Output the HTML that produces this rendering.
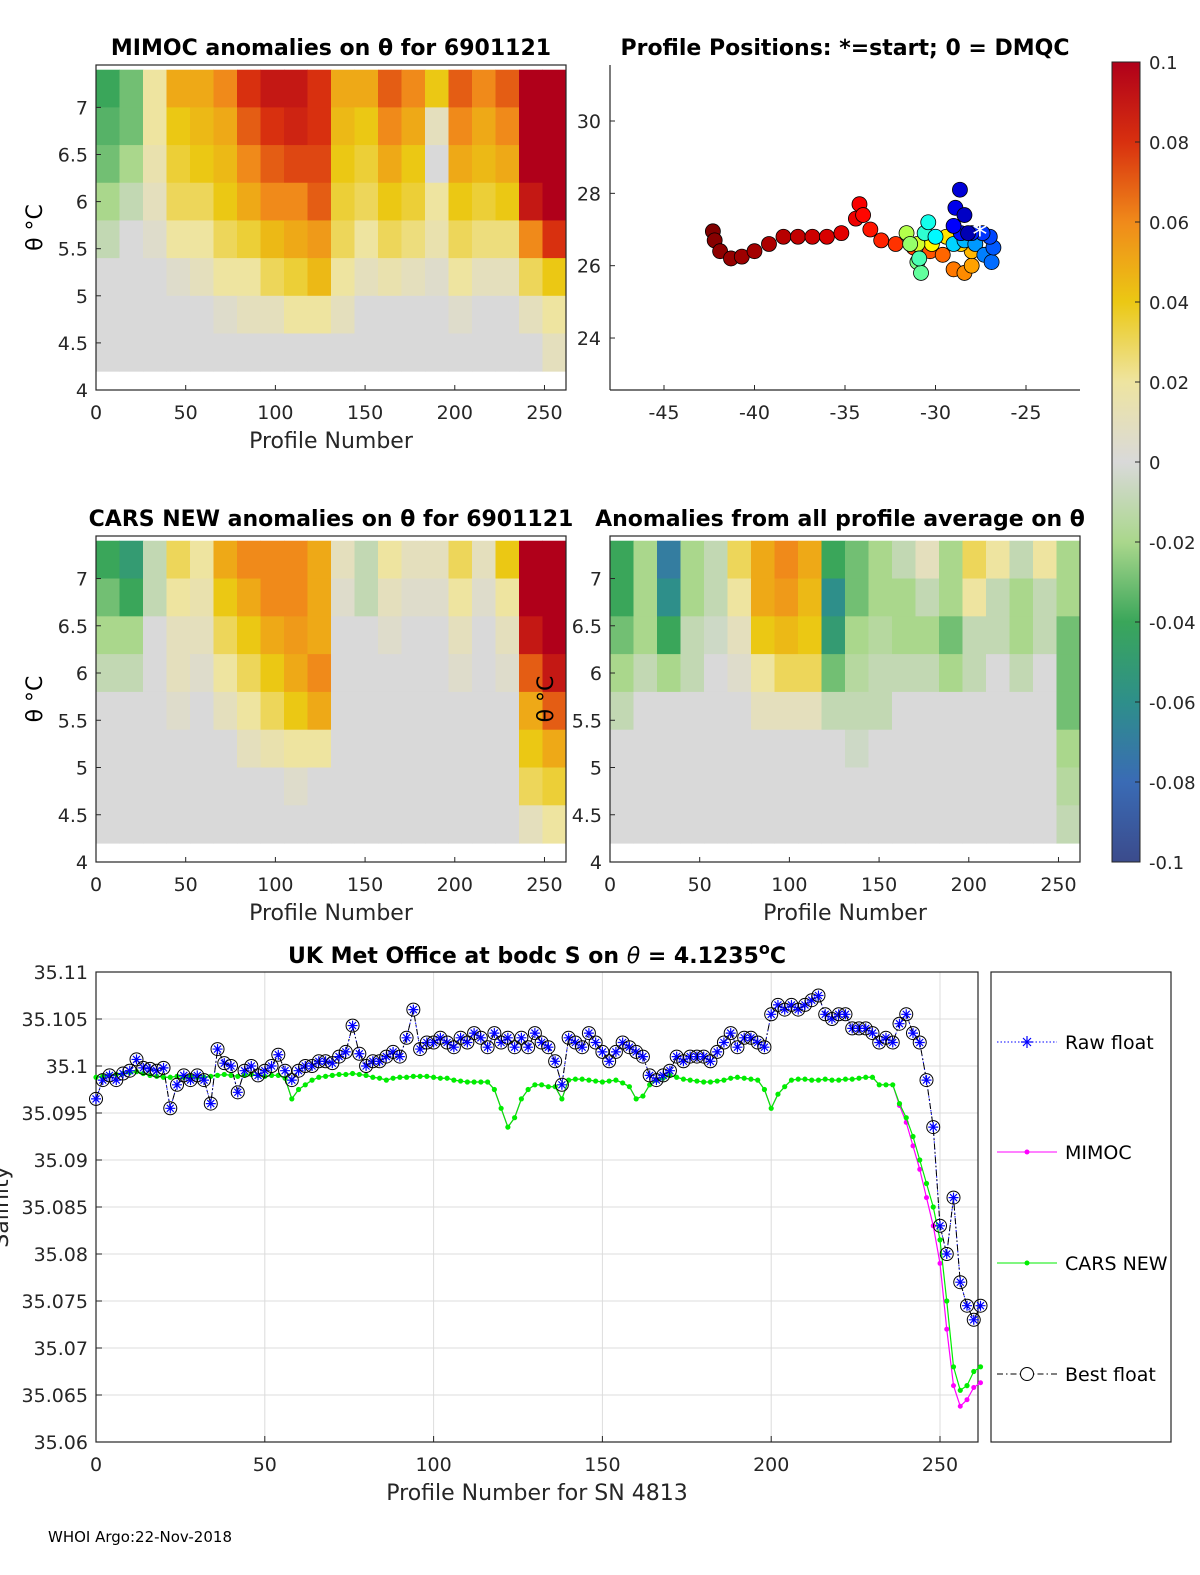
<!DOCTYPE html>
<html><head><meta charset="utf-8"><style>
body{margin:0;background:#fff;}
svg{display:block;font-family:"DejaVu Sans","Liberation Sans",sans-serif;}
</style></head><body>
<svg id="fig" width="1200" height="1575" viewBox="0 0 1200 1575">
<g id="p1"></g>
<g id="p2"></g>
<g id="p3"></g>
<g id="p4"></g>
<g id="cb"></g>
<g id="p5"></g>
<text x="48" y="1542" font-size="15">WHOI Argo:22-Nov-2018</text>
</svg>
<script>
// ---------- data ----------
const heatRows = [7.4,7.0,6.6,6.2,5.8,5.4,5.0,4.6,4.2]; // row edges (theta)
const heatColWidth = 13.1; // profiles per column
const mimocVals = [
[-0.04,-0.035,-0.03,-0.02,-0.01,0,0,0],
[-0.03,-0.03,-0.02,-0.01,0,0,0,0],
[0.02,0.02,0.015,0.01,0.005,0,0,0],
[0.05,0.04,0.035,0.03,0.02,0.005,0,0],
[0.05,0.045,0.04,0.03,0.02,0.01,0,0],
[0.06,0.05,0.045,0.04,0.03,0.02,0.005,0],
[0.08,0.07,0.06,0.05,0.035,0.02,0.01,0],
[0.09,0.08,0.07,0.06,0.045,0.03,0.01,0],
[0.09,0.085,0.075,0.06,0.05,0.035,0.02,0],
[0.08,0.08,0.075,0.07,0.055,0.045,0.02,0],
[0.05,0.045,0.04,0.035,0.03,0.02,0.01,0],
[0.05,0.04,0.035,0.03,0.02,0.01,0,0],
[0.07,0.06,0.05,0.04,0.03,0.015,0,0],
[0.06,0.05,0.04,0.035,0.025,0.01,0,0],
[0.04,0.01,0.0,0.02,0.015,0.005,0,0],
[0.07,0.06,0.05,0.04,0.03,0.02,0.005,0],
[0.06,0.05,0.045,0.035,0.025,0.01,0,0],
[0.07,0.06,0.05,0.04,0.025,0.01,0,0],
[0.1,0.1,0.1,0.09,0.06,0.03,0.01,0],
[0.1,0.1,0.1,0.1,0.08,0.04,0.02,0.01]];
const carsVals = [
[-0.04,-0.03,-0.02,-0.01,0,0,0,0],
[-0.05,-0.04,-0.02,-0.01,0,0,0,0],
[-0.01,-0.01,0,0,0,0,0,0],
[0.03,0.02,0.01,0.01,0.005,0,0,0],
[0.02,0.015,0.01,0.005,0,0,0,0],
[0.05,0.04,0.03,0.02,0.01,0,0,0],
[0.06,0.05,0.04,0.03,0.02,0.01,0,0],
[0.06,0.06,0.05,0.04,0.03,0.015,0,0],
[0.06,0.06,0.055,0.05,0.04,0.02,0.005,0],
[0.05,0.05,0.05,0.06,0.05,0.02,0,0],
[0.01,0.005,0,0,0,0,0,0],
[-0.01,-0.01,0,0,0,0,0,0],
[0.02,0.01,0.005,0,0,0,0,0],
[0.01,0.005,0,0,0,0,0,0],
[0.01,0.005,0,0,0,0,0,0],
[0.03,0.02,0.01,0.005,0,0,0,0],
[0.01,0.005,0,0,0,0,0,0],
[0.04,0.02,0.01,0.005,0,0,0,0],
[0.1,0.1,0.09,0.07,0.05,0.04,0.03,0.01],
[0.1,0.1,0.1,0.09,0.07,0.05,0.035,0.02]];
const avgVals = [
[-0.04,-0.04,-0.03,-0.02,-0.01,0,0,0],
[-0.02,-0.02,-0.02,-0.01,0,0,0,0],
[-0.07,-0.06,-0.04,-0.02,0,0,0,0],
[-0.02,-0.02,-0.01,-0.01,0,0,0,0],
[-0.01,-0.01,-0.005,0,0,0,0,0],
[0.03,0.02,0.01,0.005,0,0,0,0],
[0.05,0.05,0.04,0.02,0.01,0,0,0],
[0.06,0.055,0.045,0.03,0.01,0,0,0],
[0.05,0.045,0.04,0.03,0.01,0,0,0],
[-0.04,-0.06,-0.05,-0.03,-0.01,0,0,0],
[-0.03,-0.03,-0.02,-0.015,-0.01,-0.005,0,0],
[-0.02,-0.02,-0.015,-0.01,-0.01,0,0,0],
[-0.01,-0.02,-0.02,-0.01,0,0,0,0],
[0.01,-0.01,-0.02,-0.01,0,0,0,0],
[-0.02,-0.02,-0.03,-0.02,0,0,0,0],
[0.03,0.02,-0.01,-0.01,0,0,0,0],
[0.02,-0.01,-0.01,0,0,0,0,0],
[-0.01,-0.02,-0.02,-0.01,0,0,0,0],
[0.02,-0.01,-0.01,0,0,0,0,0],
[-0.02,-0.02,-0.03,-0.03,-0.03,-0.02,-0.015,-0.01]];
const thetaTicks = [4,4.5,5,5.5,6,6.5,7];
const thetaTickLabels = ["4","4.5","5","5.5","6","6.5","7"];
const profTicks = [0,50,100,150,200,250];
const cbTicks = [0.1,0.08,0.06,0.04,0.02,0,-0.02,-0.04,-0.06,-0.08,-0.1];
const cbTickLabels = ["0.1","0.08","0.06","0.04","0.02","0","-0.02","-0.04","-0.06","-0.08","-0.1"];
const mapLon = [-28.2,-28.4,-28.65,-28.9,-29.0,-28.6,-28.0,-27.4,-27.0,-26.8,-26.9,-27.3,-27.8,-28.4,-29.0,-30.0,-30.4,-30.6,-30.9,-30.8,-31.0,-31.4,-31.6,-31.0,-30.2,-29.4,-28.6,-28.0,-28.0,-28.4,-29.0,-29.6,-30.3,-31.2,-32.2,-33.0,-33.6,-34.0,-34.2,-34.4,-35.2,-36.0,-36.8,-37.6,-38.4,-39.2,-40.0,-40.7,-41.3,-41.9,-42.2,-42.3];
const mapLat = [26.9,27.4,28.1,27.6,27.1,26.9,26.9,26.9,26.8,26.5,26.1,26.3,26.6,26.7,26.6,26.8,27.2,26.9,26.2,25.8,26.1,26.6,26.9,26.6,26.6,26.8,26.6,26.4,26.0,25.8,25.9,26.3,26.4,26.5,26.6,26.7,27.0,27.4,27.7,27.3,26.9,26.8,26.8,26.8,26.8,26.6,26.4,26.25,26.2,26.4,26.7,26.95];
const mapProfile = [0,5,10,15,20,25,30,35,40,45,50,55,62,70,78,88,95,102,110,116,122,130,138,146,160,166,172,178,184,190,195,200,205,210,214,218,222,226,229,232,235,238,241,244,247,250,252,254,256,258,260,262];
const mapStartLon = -27.55, mapStartLat = 26.9;
const lonTicks = [-45,-40,-35,-30,-25];
const latTicks = [24,26,28,30];
const salProfiles = []; for (let p=0;p<=262;p+=2) salProfiles.push(p);
const bestFloat = [35.0965,35.0985,35.0990,35.0985,35.0992,35.0995,35.1007,35.0998,35.0997,35.0995,35.0998,35.0955,35.0980,35.0990,35.0985,35.0990,35.0985,35.0960,35.1018,35.1003,35.1000,35.0972,35.0995,35.1000,35.0990,35.0995,35.1000,35.1012,35.0995,35.0985,35.0995,35.1000,35.1000,35.1005,35.1005,35.1003,35.1010,35.1015,35.1043,35.1013,35.1000,35.1005,35.1005,35.1010,35.1015,35.1010,35.1030,35.1060,35.1018,35.1025,35.1025,35.1030,35.1025,35.1020,35.1030,35.1025,35.1035,35.1030,35.1020,35.1035,35.1025,35.1030,35.1020,35.1030,35.1020,35.1035,35.1025,35.1020,35.1005,35.0980,35.1030,35.1025,35.1020,35.1035,35.1025,35.1015,35.1005,35.1015,35.1025,35.1020,35.1015,35.1010,35.0990,35.0985,35.0990,35.0995,35.1010,35.1005,35.1010,35.1010,35.1010,35.1005,35.1015,35.1025,35.1035,35.1020,35.1030,35.1030,35.1025,35.1020,35.1055,35.1065,35.1060,35.1065,35.1060,35.1065,35.1070,35.1075,35.1055,35.1050,35.1055,35.1055,35.1040,35.1040,35.1040,35.1035,35.1025,35.1030,35.1025,35.1045,35.1055,35.1035,35.1025,35.0985,35.0935,35.0830,35.0800,35.0860,35.0770,35.0745,35.0730,35.0745];
const carsSal = [35.0988,35.0989,35.0990,35.0991,35.0992,35.0993,35.0994,35.0992,35.0990,35.0989,35.0988,35.0988,35.0989,35.0988,35.0989,35.0988,35.0988,35.0989,35.0990,35.0991,35.0990,35.0989,35.0990,35.0991,35.0990,35.0989,35.0990,35.0990,35.0987,35.0965,35.0975,35.0980,35.0985,35.0988,35.0989,35.0990,35.0991,35.0991,35.0992,35.0991,35.0990,35.0988,35.0987,35.0985,35.0987,35.0988,35.0988,35.0989,35.0989,35.0989,35.0988,35.0987,35.0987,35.0985,35.0984,35.0983,35.0983,35.0983,35.0983,35.0975,35.0955,35.0935,35.0945,35.0965,35.0975,35.0980,35.0980,35.0978,35.0978,35.0965,35.0985,35.0986,35.0986,35.0985,35.0984,35.0983,35.0984,35.0985,35.0982,35.0978,35.0965,35.0968,35.0980,35.0985,35.0987,35.0990,35.0988,35.0986,35.0985,35.0984,35.0983,35.0983,35.0984,35.0985,35.0987,35.0988,35.0987,35.0986,35.0985,35.0975,35.0955,35.0970,35.0978,35.0985,35.0986,35.0986,35.0985,35.0985,35.0986,35.0985,35.0985,35.0986,35.0986,35.0987,35.0988,35.0988,35.0980,35.0980,35.0980,35.0960,35.0945,35.0925,35.0900,35.0875,35.0850,35.0815,35.0750,35.0680,35.0655,35.0660,35.0675,35.0680];
const mimocSal = carsSal.slice(0,119).concat([35.0958,35.0940,35.0915,35.0890,35.0860,35.0830,35.0790,35.0720,35.0660,35.0638,35.0645,35.0658,35.0663]);
const salTicks = [35.06,35.065,35.07,35.075,35.08,35.085,35.09,35.095,35.1,35.105,35.11];
const salTickLabels = ["35.06","35.065","35.07","35.075","35.08","35.085","35.09","35.095","35.1","35.105","35.11"];

// ---------- helpers ----------
const NS="http://www.w3.org/2000/svg";
function mk(parent,tag,attrs,txt){const e=document.createElementNS(NS,tag);for(const k in attrs)e.setAttribute(k,attrs[k]);if(txt!==undefined)e.textContent=txt;parent.appendChild(e);return e;}
const stops=[[-0.1,[59,75,140]],[-0.08,[58,107,181]],[-0.06,[46,143,138]],[-0.04,[58,166,90]],[-0.02,[170,215,140]],[0,[217,217,217]],[0.02,[238,228,160]],[0.04,[235,200,20]],[0.06,[240,138,26]],[0.08,[216,48,15]],[0.1,[176,0,26]]];
function cmap(v){v=Math.max(-0.1,Math.min(0.1,v));for(let i=0;i<stops.length-1;i++){const a=stops[i],b=stops[i+1];if(v<=b[0]){const t=(v-a[0])/(b[0]-a[0]);const c=a[1].map((x,j)=>Math.round(x+(b[1][j]-x)*t));return `rgb(${c})`;}}return 'rgb(176,0,26)';}
function jet(t){const f=x=>Math.max(0,Math.min(1,x));t=0.05+0.95*t;const r=f(1.5-Math.abs(4*t-3)),g=f(1.5-Math.abs(4*t-2)),b=f(1.5-Math.abs(4*t-1));return `rgb(${Math.round(r*255)},${Math.round(g*255)},${Math.round(b*255)})`;}

function heatPanel(id,vals,box,title,titleX,showYLabel,yLabelX){
  const g=document.getElementById(id);
  const xs=p=>box.x+(p/262)*box.w;
  const ys=t=>box.y+box.h-(t-4)/(7.45-4)*box.h;
  vals.forEach((col,ci)=>{col.forEach((v,ri)=>{
    const x0=xs(ci*heatColWidth),x1=xs(Math.min(262,(ci+1)*heatColWidth));
    const y0=ys(heatRows[ri]),y1=ys(heatRows[ri+1]);
    const r=mk(g,'rect',{x:x0,y:y0,width:x1-x0+0.5,height:y1-y0+0.5,fill:cmap(v)});
    
    
  });});
  mk(g,'rect',{x:box.x,y:box.y,width:box.w,height:box.h,fill:'none',stroke:'#262626','stroke-width':1.2});
  thetaTicks.forEach((t,i)=>{const y=ys(t);mk(g,'line',{x1:box.x,x2:box.x+5,y1:y,y2:y,stroke:'#262626'});
    const tx=mk(g,'text',{x:box.x-8,y:y+7,'font-size':19,'text-anchor':'end',fill:'#262626'},thetaTickLabels[i]);
    });
  profTicks.forEach(p=>{const x=xs(p);mk(g,'line',{x1:x,x2:x,y1:box.y+box.h,y2:box.y+box.h-5,stroke:'#262626'});
    const tx=mk(g,'text',{x:x,y:box.y+box.h+29,'font-size':19,'text-anchor':'middle',fill:'#262626'},String(p));
    });
  const xl=mk(g,'text',{x:box.x+box.w/2,y:box.y+box.h+58,'font-size':22,'text-anchor':'middle',fill:'#262626'},'Profile Number');
  
  if(showYLabel){const yl=mk(g,'text',{x:yLabelX,y:box.y+box.h/2,'font-size':22,'text-anchor':'middle',fill:'#000',transform:`rotate(-90 ${yLabelX} ${box.y+box.h/2})`},'θ °C');
    }
  const tt=mk(g,'text',{x:titleX,y:box.y-10,'font-size':22,'font-weight':'bold','text-anchor':'middle'},title);
  
}
heatPanel('p1',mimocVals,{x:96,y:65,w:470,h:325},'MIMOC anomalies on θ  for 6901121',331,true,42);
heatPanel('p3',carsVals,{x:96,y:536,w:470,h:326},'CARS NEW anomalies on θ for 6901121',331,true,42);
heatPanel('p4',avgVals,{x:610,y:536,w:470,h:326},'Anomalies from all profile average on θ',840,true,553);

// map
(function(){
  const g=document.getElementById('p2');const box={x:610,y:65,w:470,h:325};
  const xs=l=>664+(l+45)*18.1, ys=a=>121+(30-a)*36.17;
  mk(g,'line',{x1:box.x,x2:box.x,y1:box.y,y2:box.y+box.h,stroke:'#262626','stroke-width':1.2});
  mk(g,'line',{x1:box.x,x2:box.x+box.w,y1:box.y+box.h,y2:box.y+box.h,stroke:'#262626','stroke-width':1.2});
  const order=mapLon.map((_,i)=>i).reverse();
  order.forEach(i=>{const c=mk(g,'circle',{cx:xs(mapLon[i]),cy:ys(mapLat[i]),r:7.5,fill:jet(mapProfile[i]/262),stroke:'#000','stroke-width':0.8});
    });
  const sx=xs(mapStartLon),sy=ys(mapStartLat);
  const st=mk(g,'text',{x:sx,y:sy+12,'font-size':30,'text-anchor':'middle',fill:'#fff'},'*');
  
  lonTicks.forEach(l=>{const x=xs(l);mk(g,'line',{x1:x,x2:x,y1:box.y+box.h,y2:box.y+box.h-5,stroke:'#262626'});
    const t=mk(g,'text',{x:x,y:box.y+box.h+29,'font-size':19,'text-anchor':'middle',fill:'#262626'},String(l));
    });
  latTicks.forEach(a=>{const y=ys(a);mk(g,'line',{x1:box.x,x2:box.x+5,y1:y,y2:y,stroke:'#262626'});
    const t=mk(g,'text',{x:box.x-9,y:y+7,'font-size':19,'text-anchor':'end',fill:'#262626'},String(a));
    });
  const tt=mk(g,'text',{x:845,y:55,'font-size':22,'font-weight':'bold','text-anchor':'middle'},'Profile Positions: *=start; 0 = DMQC');
  
})();

// colorbar
(function(){
  const g=document.getElementById('cb');const x=1112,w=28,y0=62,h=800;
  const defs=mk(g,'defs',{});const lg=mk(defs,'linearGradient',{id:'cbg',x1:0,y1:1,x2:0,y2:0});
  stops.forEach(s=>mk(lg,'stop',{offset:(s[0]+0.1)/0.2,'stop-color':`rgb(${s[1]})`}));
  mk(g,'rect',{x:x,y:y0,width:w,height:h,fill:'url(#cbg)',stroke:'#262626','stroke-width':1});
  cbTicks.forEach((v,i)=>{const y=y0+(0.1-v)/0.2*h;
    mk(g,'line',{x1:x+w-5,x2:x+w,y1:y,y2:y,stroke:'#262626'});
    const t=mk(g,'text',{x:x+37,y:y+7,'font-size':18,fill:'#262626'},cbTickLabels[i]);
    });
})();

// salinity
(function(){
  const g=document.getElementById('p5');const box={x:96,y:972,w:882,h:470};
  const xs=p=>96+p*3.376, ys=s=>972+(35.11-s)/0.05*470;
  mk(g,'rect',{x:box.x,y:box.y,width:box.w,height:box.h,fill:'#fff'});
  salTicks.forEach((s,i)=>{const y=ys(s);
    mk(g,'line',{x1:box.x,x2:box.x+box.w,y1:y,y2:y,stroke:'#dcdcdc'});
    mk(g,'line',{x1:box.x,x2:box.x+6,y1:y,y2:y,stroke:'#262626'});
    const t=mk(g,'text',{x:88,y:y+7,'font-size':19,'text-anchor':'end',fill:'#262626'},salTickLabels[i]);
    });
  profTicks.forEach(p=>{const x=xs(p);
    mk(g,'line',{x1:x,x2:x,y1:box.y,y2:box.y+box.h,stroke:'#dcdcdc'});
    mk(g,'line',{x1:x,x2:x,y1:box.y+box.h,y2:box.y+box.h-6,stroke:'#262626'});
    const t=mk(g,'text',{x:x,y:box.y+box.h+29,'font-size':19,'text-anchor':'middle',fill:'#262626'},String(p));
    });
  mk(g,'rect',{x:box.x,y:box.y,width:box.w,height:box.h,fill:'none',stroke:'#262626','stroke-width':1.2});
  const pts=arr=>arr.map((v,i)=>`${xs(salProfiles[i])},${ys(v)}`).join(' ');
  const raw=mk(g,'polyline',{points:pts(bestFloat),fill:'none',stroke:'#0000ff','stroke-dasharray':'1.5 2','stroke-width':1});
  
  const mm=mk(g,'polyline',{points:pts(mimocSal),fill:'none',stroke:'#ff00ff','stroke-width':1.2});
  
  mimocSal.forEach((v,i)=>{if(i>=119){const c=mk(g,'circle',{cx:xs(salProfiles[i]),cy:ys(v),r:2.5,fill:'#ff00ff'});
    }});
  const cl=mk(g,'polyline',{points:pts(carsSal),fill:'none',stroke:'#00ee00','stroke-width':1.2});
  
  carsSal.forEach((v,i)=>{const c=mk(g,'circle',{cx:xs(salProfiles[i]),cy:ys(v),r:2.6,fill:'#00ee00'});
    });
  const bl=mk(g,'polyline',{points:pts(bestFloat),fill:'none',stroke:'#000','stroke-dasharray':'6 3 1.5 3','stroke-width':1});
  
  bestFloat.forEach((v,i)=>{const x=xs(salProfiles[i]),y=ys(v);
    const c=mk(g,'circle',{cx:x,cy:y,r:6.5,fill:'none',stroke:'#000','stroke-width':1});
    
    const s=mk(g,'path',{d:`M${x-5},${y}H${x+5}M${x},${y-5}V${y+5}M${x-3.5},${y-3.5}L${x+3.5},${y+3.5}M${x-3.5},${y+3.5}L${x+3.5},${y-3.5}`,stroke:'#0000ff','stroke-width':1.2});
    });
  const tt=mk(g,'text',{x:537,y:963,'font-size':22,'font-weight':'bold','text-anchor':'middle'});
  
  tt.innerHTML='UK Met Office at bodc S on <tspan font-style="italic" font-weight="normal">θ</tspan> = 4.1235<tspan dy="-9" font-size="16">o</tspan><tspan dy="9">C</tspan>';
  const xl=mk(g,'text',{x:537,y:1500,'font-size':22,'text-anchor':'middle',fill:'#262626'},'Profile Number for SN 4813');
  
  const yl=mk(g,'text',{x:8,y:1207,'font-size':22,'text-anchor':'middle',fill:'#262626',transform:'rotate(-90 8 1207)'},'Salinity');
  
  // legend
  const lg=mk(g,'g',{});
  mk(lg,'rect',{x:991,y:972,width:180,height:470,fill:'#fff',stroke:'#262626','stroke-width':1.2});
  const ents=[['Raw float',1042],['MIMOC',1152],['CARS NEW',1263],['Best float',1374]];
  ents.forEach((e,i)=>{const y=e[1];
    const gg=mk(lg,'g',{});
    if(i===0){mk(gg,'line',{x1:997,x2:1057,y1:y,y2:y,stroke:'#0000ff','stroke-dasharray':'1.5 2'});
      mk(gg,'path',{d:`M1021,${y}H1033M1027,${y-6}V${y+6}M1023,${y-4}L1031,${y+4}M1023,${y+4}L1031,${y-4}`,stroke:'#0000ff','stroke-width':1.2});}
    if(i===1){mk(gg,'line',{x1:997,x2:1057,y1:y,y2:y,stroke:'#ff00ff'});mk(gg,'circle',{cx:1027,cy:y,r:2.5,fill:'#ff00ff'});}
    if(i===2){mk(gg,'line',{x1:997,x2:1057,y1:y,y2:y,stroke:'#00ee00'});mk(gg,'circle',{cx:1027,cy:y,r:2.5,fill:'#00ee00'});}
    if(i===3){mk(gg,'line',{x1:997,x2:1057,y1:y,y2:y,stroke:'#000','stroke-dasharray':'6 3 1.5 3'});mk(gg,'circle',{cx:1027,cy:y,r:6.5,fill:'#fff',stroke:'#000'});}
    mk(gg,'text',{x:1065,y:y+7,'font-size':19,fill:'#000'},e[0]);});
})();
</script>
</body></html>
